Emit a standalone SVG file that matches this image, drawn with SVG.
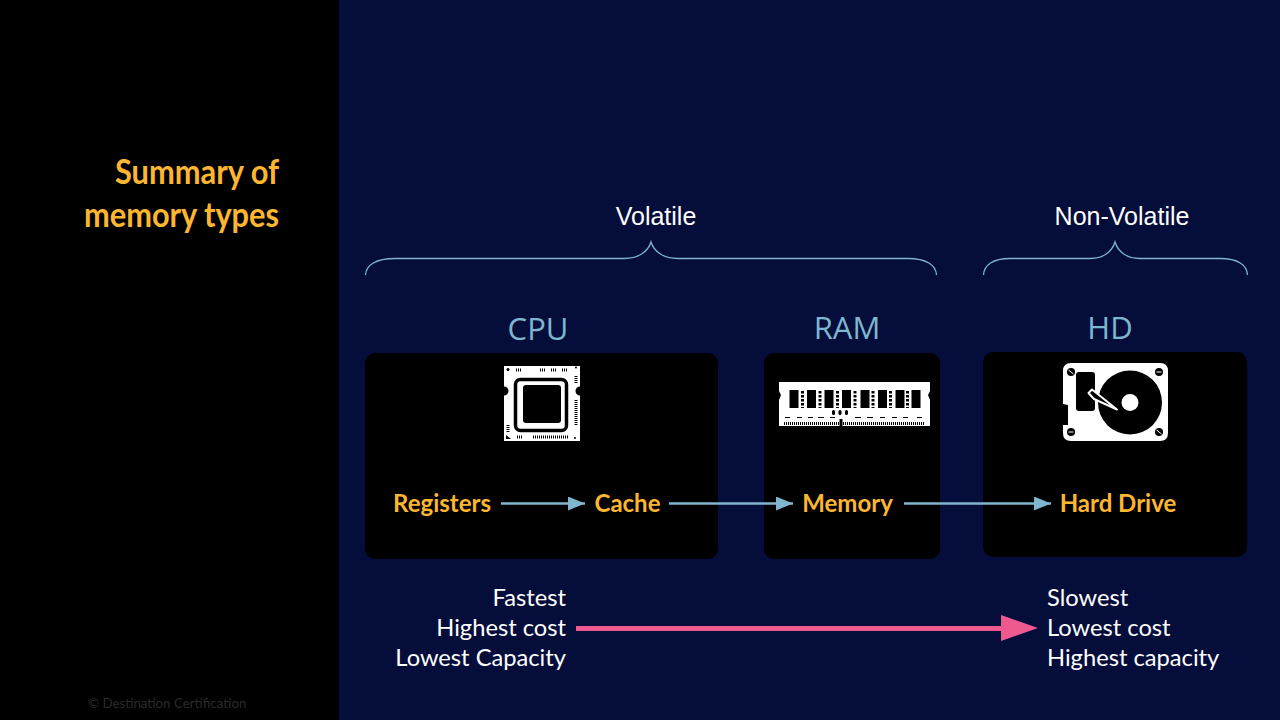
<svg xmlns="http://www.w3.org/2000/svg" width="1280" height="720" viewBox="0 0 1280 720">
<style>
.title{font:bold 34px "Lato","Open Sans",sans-serif;fill:#fdb62f;text-anchor:end}
.lab{font:bold 24px "Lato","Open Sans",sans-serif;fill:#fdb62f;text-anchor:middle}
.hdr{font:31px "Open Sans",sans-serif;fill:#7fb6cf;text-anchor:middle}
.vol{font:25px "Liberation Sans",Arial,sans-serif;fill:#fff;text-anchor:middle}
.note{font:23.700px "Lato","Open Sans",sans-serif;fill:#fff}
.box{fill:#000}
.brace{fill:none;stroke:#7fb6cf;stroke-width:1.300}
.conn{stroke:#7fb6cf;stroke-width:2.500;fill:none;marker-end:url(#ah)}
.dots{stroke:#000;stroke-width:3;stroke-dasharray:2.500 1.500;fill:none}
.fine{stroke:#000;stroke-width:3;stroke-dasharray:1 1;fill:none}
</style>
<defs>
<marker id="ah" markerUnits="userSpaceOnUse" markerWidth="18" markerHeight="14" refX="17" refY="7" orient="auto"><path d="M0 0L17 7L0 14Z" fill="#7fb6cf"/></marker>
</defs>
<rect width="1280" height="720" fill="#050d3a"/>
<rect width="339" height="720" fill="#000"/>
<g id="title">
<text class="title" x="279" y="184" textLength="164" lengthAdjust="spacingAndGlyphs">Summary of</text>
<text class="title" x="279" y="227" textLength="195" lengthAdjust="spacingAndGlyphs">memory types</text>
</g>
<text x="88" y="708" font-family="Lato,'Open Sans',sans-serif" font-size="13.300" fill="#2a2a2a">© Destination Certification</text>
<g id="volatile">
<text class="vol" x="656" y="225">Volatile</text>
<path class="brace" d="M365.500 275C366 265 376 258.500 395 258.500H624C638 258.500 648 252 651 242C654 252 664 258.500 678 258.500H908C926 258.500 936 265 936.500 275"/>
</g>
<g id="nonvolatile">
<text class="vol" x="1122" y="225">Non-Volatile</text>
<path class="brace" d="M983.500 275C984 265 993 258.500 1010 258.500H1090C1103 258.500 1112 252 1115 242C1118 252 1127 258.500 1140 258.500H1220C1238 258.500 1247 265 1247.500 275"/>
</g>
<g id="cpu">
<rect class="box" x="365" y="353" width="353" height="206" rx="10"/>
<text class="hdr" x="538" y="340">CPU</text>
<path fill="#fff" d="M504 366H580V386.500A4.500 4.500 0 0 0 580 395.500V441H504V395.500A4.500 4.500 0 0 0 504 386.500Z"/>
<rect x="515.500" y="379.500" width="51" height="51" rx="5" fill="none" stroke="#000" stroke-width="3.500"/>
<rect x="523" y="385" width="38" height="38" rx="3" fill="#000"/>
<g fill="#000">
<circle cx="508" cy="369.500" r="1.500"/><circle cx="576" cy="367.500" r="1"/><circle cx="575" cy="438" r="1"/>
<path d="M506 435L511 439H506Z"/>
</g>
<path class="fine" d="M516 370H521M540 370H545M551 370H556M562 370H567M517 437H523M533 437H569"/>
<path class="fine" d="M576 376V384M576 400V426M508 425V433"/>
</g>
<g id="ram">
<rect class="box" x="764" y="353" width="176" height="206" rx="10"/>
<text class="hdr" x="847" y="339">RAM</text>
<path fill="#fff" d="M779 382H930V391L928 395L930 400V426H779V400L781 395L779 391Z"/>
<g fill="#000">
<rect x="789.500" y="390" width="9" height="18"/><rect x="807" y="390" width="9" height="18"/><rect x="824.500" y="390" width="9" height="18"/><rect x="842" y="390" width="9" height="18"/><rect x="860.500" y="390" width="9" height="18"/><rect x="878" y="390" width="9" height="18"/><rect x="895.500" y="390" width="9" height="18"/><rect x="911.500" y="390" width="9" height="18"/>
<rect x="832" y="410" width="3" height="5" rx="1.500"/><rect x="838.500" y="410" width="3" height="5" rx="1.500"/><rect x="845" y="410" width="3" height="5" rx="1.500"/>
</g>
<path class="dots" d="M802.500 391V408M820 391V408M837.500 391V408M855 391V408M873 391V408M890.500 391V408M907.500 391V408"/>
<path d="M785 417.500H790M797 417.500H802M808 417.500H813M818 417.500H824M830 417.500H835M855 417.500H861M867 417.500H873M880 417.500H885M892 417.500H897M903 417.500H908M917 417.500H922" stroke="#000" stroke-width="1" fill="none"/>
<path class="fine" d="M784 423.500H839M843 423.500H925"/>
<rect x="839.500" y="419" width="3" height="7" fill="#000"/>
</g>
<g id="hd">
<rect class="box" x="983" y="352" width="264" height="205" rx="10"/>
<text class="hdr" x="1110" y="339">HD</text>
<path fill="#fff" d="M1071 363H1160Q1168 363 1168 371V433Q1168 441 1160 441H1071Q1063 441 1063 433V425H1068V405L1063 404V371Q1063 363 1071 363Z"/>
<rect x="1076" y="372" width="19" height="39" rx="3" fill="#000"/>
<circle cx="1130" cy="402.500" r="32" fill="#000"/>
<circle cx="1130" cy="402.500" r="8.500" fill="#fff"/>
<path d="M1088.500 393L1092 389.500L1117 409.500L1094 399Z" fill="#000" stroke="#fff" stroke-width="2" stroke-linejoin="round"/>
<g fill="#000"><circle cx="1071" cy="372" r="4"/><circle cx="1159" cy="372" r="4"/><circle cx="1071" cy="432" r="4"/><circle cx="1159" cy="432" r="4"/></g>
<g stroke="#fff" stroke-width="1"><path d="M1068.500 370L1073.500 374M1156.500 372H1161.500M1068.500 432H1073.500M1156.500 430L1161.500 434"/></g>
</g>
<g id="labels">
<text class="lab" x="442" y="512">Registers</text>
<text class="lab" x="627.500" y="512">Cache</text>
<text class="lab" x="847.500" y="512">Memory</text>
<text class="lab" x="1118" y="512">Hard Drive</text>
</g>
<g id="connectors">
<path class="conn" d="M501 503.500H585"/>
<path class="conn" d="M669 503.500H793"/>
<path class="conn" d="M904 503.500H1051"/>
<path d="M576 626H1001V615L1038 628L1001 641V631H576Z" fill="#ee5a90"/>
</g>
<g id="fast">
<text class="note" x="566" y="606" text-anchor="end">Fastest</text>
<text class="note" x="566" y="636" text-anchor="end">Highest cost</text>
<text class="note" x="566" y="666" text-anchor="end">Lowest Capacity</text>
</g>
<g id="slow">
<text class="note" x="1047" y="606">Slowest</text>
<text class="note" x="1047" y="636">Lowest cost</text>
<text class="note" x="1047" y="666">Highest capacity</text>
</g>
</svg>
